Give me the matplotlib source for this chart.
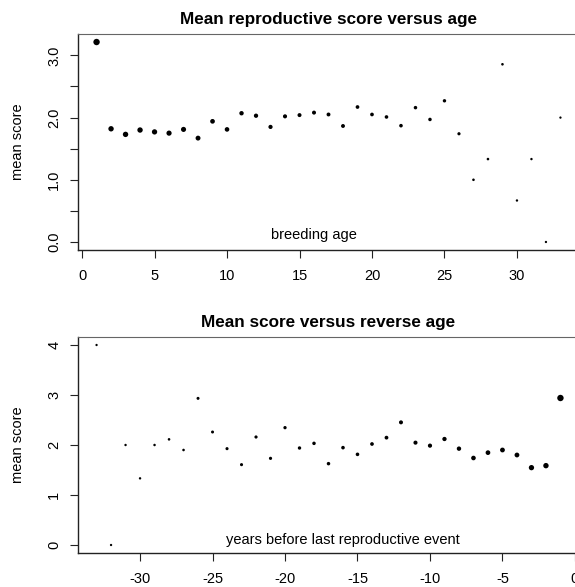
import matplotlib
matplotlib.use("Agg")
import matplotlib.pyplot as plt
import numpy as np

plt.rcParams['font.family'] = ['Liberation Sans', 'DejaVu Sans']
plt.rcParams['axes.unicode_minus'] = False

# mean score by breeding age
age = list(range(1, 34))
score_age = [3.215, 1.82, 1.73, 1.80, 1.77, 1.75, 1.81, 1.67, 1.94, 1.81,
             2.07, 2.03, 1.85, 2.02, 2.04, 2.08, 2.05, 1.865, 2.17, 2.05,
             2.01, 1.87, 2.16, 1.97, 2.27, 1.74, 1.00, 1.333, 2.857, 0.667,
             1.333, 0.0, 2.0]

# mean score by years before last reproductive event
rev_age = list(range(-33, 0))
score_rev = [4.0, 0.0, 2.0, 1.333, 2.0, 2.113, 1.90, 2.933, 2.26, 1.927,
             1.607, 2.16, 1.733, 2.347, 1.94, 2.033, 1.627, 1.947, 1.813, 2.02,
             2.147, 2.453, 2.047, 1.987, 2.12, 1.927, 1.74, 1.847, 1.90, 1.80,
             1.547, 1.587, 2.94]

# point diameters in pixels (scaled by sample size)
dot_top = [6.4, 5.4, 5.4, 5.4, 5.3, 5.2, 5.1, 4.9, 4.7, 4.6,
           4.4, 4.3, 4.2, 4.1, 4.0, 4.0, 3.9, 3.9, 3.7, 3.7,
           3.6, 3.6, 3.5, 3.5, 3.4, 3.2, 2.6, 2.6, 2.6, 2.4,
           2.4, 2.3, 2.3]
dot_bot = [2.3, 2.3, 2.4, 2.4, 2.5, 2.6, 2.6, 3.0, 3.0, 3.1,
           3.1, 3.2, 3.2, 3.3, 3.4, 3.5, 3.5, 3.6, 3.6, 3.7,
           3.8, 4.0, 4.1, 4.2, 4.3, 4.4, 4.6, 4.7, 4.8, 4.8,
           5.3, 5.4, 6.4]

W, H = 575, 587
fig = plt.figure(figsize=(W / 100, H / 100), dpi=100)


def px_axes(left, top, right, bottom):
    return fig.add_axes([left / W, 1 - bottom / H, (right - left) / W, (bottom - top) / H])


def style(ax):
    for s in ['top', 'right']:
        ax.spines[s].set_color('#666666')
        ax.spines[s].set_linewidth(0.8)
    for s in ['left', 'bottom']:
        ax.spines[s].set_color('#222222')
        ax.spines[s].set_linewidth(1.0)
    ax.tick_params(direction='out', length=6, width=0.8, labelsize=10.5, color='#222222')
    ax.tick_params(axis='x', pad=8)
    ax.tick_params(axis='y', pad=6)
    for lab in ax.get_yticklabels():
        lab.set_rotation(90)
        lab.set_va('center')


def sizes(d):
    return [(v / 1.389) ** 2 for v in d]


ax1 = px_axes(78, 34, 579, 250)
ax1.scatter(age, score_age, s=sizes(dot_top), c='black', linewidths=0)
ax1.set_xlim(-0.28, 34.28)
ax1.set_ylim(-0.129, 3.344)
ax1.set_xticks([0, 5, 10, 15, 20, 25, 30])
ax1.set_yticks(np.arange(0, 3.01, 0.5))
ax1.set_yticklabels(['0.0', '', '1.0', '', '2.0', '', '3.0'])
style(ax1)
ax1.set_title('Mean reproductive score versus age', fontsize=12.3, fontweight='bold', pad=7)
ax1.set_ylabel('mean score', fontsize=10.5, labelpad=16)
ax1.text(16, 0.11, 'breeding age', ha='center', va='center', fontsize=10.5)

ax2 = px_axes(78, 337, 579, 553)
ax2.scatter(rev_age, score_rev, s=sizes(dot_bot), c='black', linewidths=0)
ax2.set_xlim(-34.28, 0.28)
ax2.set_ylim(-0.16, 4.16)
ax2.set_xticks([-30, -25, -20, -15, -10, -5, 0])
ax2.set_yticks([0, 1, 2, 3, 4])
style(ax2)
ax2.set_title('Mean score versus reverse age', fontsize=12.3, fontweight='bold', pad=7)
ax2.set_ylabel('mean score', fontsize=10.5, labelpad=16)
ax2.text(-16, 0.1, 'years before last reproductive event', ha='center', va='center', fontsize=10.5)

fig.savefig('out.png', dpi=100)
